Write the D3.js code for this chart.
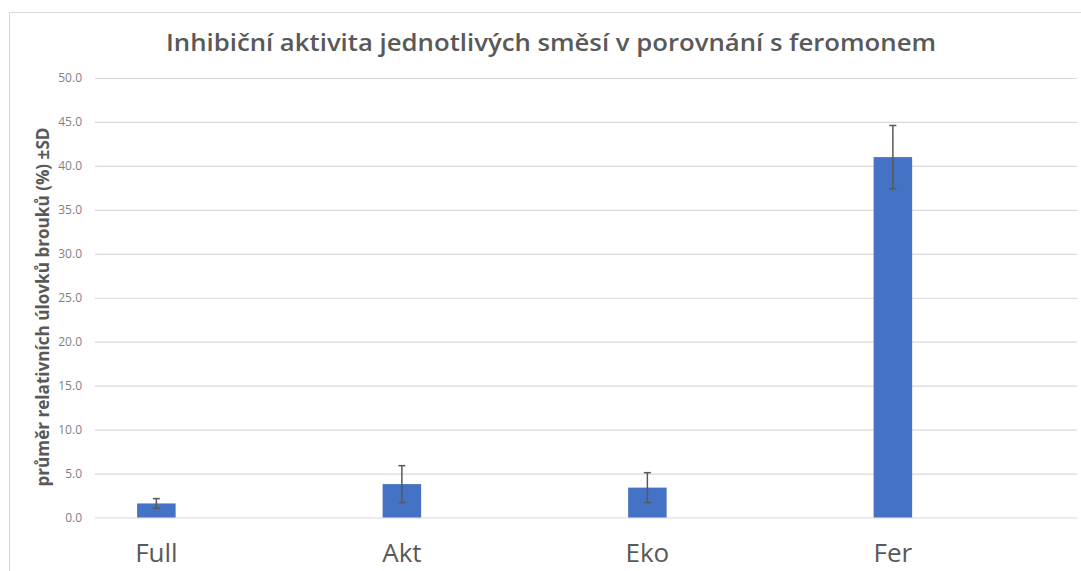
<!DOCTYPE html>
<html>
<head>
<meta charset="utf-8">
<script src="https://cdn.jsdelivr.net/npm/d3@7"></script>
<style>
  body { margin: 0; background: #fff; }
  text { font-family: "Open Sans", "Noto Sans", sans-serif; }
</style>
</head>
<body>
<div id="chart"></div>
<script>
// data
const categories = ['Full', 'Akt', 'Eko', 'Fer'];
const means = [1.6, 3.8, 3.4, 41.0];
const sds = [0.55, 2.1, 1.7, 3.6];
const yTicks = [0, 5, 10, 15, 20, 25, 30, 35, 40, 45, 50];

const W = 1081, H = 571;
const plot = { left: 95, right: 1077, top: 78, bottom: 517.5 };

const svg = d3.select('#chart')
    .append('svg')
    .attr('width', W)
    .attr('height', H);

// chart frame
svg.append('rect')
    .attr('x', 9.5).attr('y', 12.5)
    .attr('width', W).attr('height', H)
    .attr('fill', 'none')
    .attr('stroke', '#d9d9d9');

const x = d3.scaleBand()
    .domain(categories)
    .range([plot.left, plot.right]);

const y = d3.scaleLinear()
    .domain([0, 50])
    .range([plot.bottom, plot.top]);

const barW = 38.5;
// bars sit at a quarter of each band
const cx = c => x(c) + x.bandwidth() / 4;

// gridlines + tick labels
const yAxis = svg.append('g')
    .attr('transform', `translate(${plot.left},0)`)
    .call(d3.axisLeft(y)
        .tickValues(yTicks)
        .tickSize(-(plot.right - plot.left))
        .tickPadding(13)
        .tickFormat(d3.format('.1f')));
yAxis.select('.domain').remove();
yAxis.selectAll('.tick line').attr('stroke', '#d9d9d9').attr('stroke-width', 1.2);
yAxis.selectAll('.tick text')
    .attr('fill', '#7f7f7f')
    .style('font-size', '12px');

// bars
svg.append('g')
    .selectAll('rect')
    .data(categories)
    .enter()
    .append('rect')
    .attr('x', c => cx(c) - barW / 2)
    .attr('y', (c, i) => y(means[i]))
    .attr('width', barW)
    .attr('height', (c, i) => y(0) - y(means[i]))
    .attr('fill', '#4472c4');

// error bars
const err = svg.append('g')
    .attr('stroke', '#595959')
    .attr('stroke-width', 1.5);
categories.forEach((c, i) => {
    const hi = y(means[i] + sds[i]);
    const lo = y(means[i] - sds[i]);
    const px = cx(c);
    err.append('line').attr('x1', px).attr('x2', px).attr('y1', hi).attr('y2', lo);
    err.append('line').attr('x1', px - 3.5).attr('x2', px + 3.5).attr('y1', hi).attr('y2', hi);
    err.append('line').attr('x1', px - 3.5).attr('x2', px + 3.5).attr('y1', lo).attr('y2', lo);
});

// category labels
svg.append('g')
    .selectAll('text')
    .data(categories)
    .enter()
    .append('text')
    .attr('x', c => cx(c))
    .attr('y', 562)
    .attr('text-anchor', 'middle')
    .attr('fill', '#595959')
    .style('font-size', '26px')
    .text(c => c);

// title
svg.append('text')
    .attr('x', 551)
    .attr('y', 51)
    .attr('text-anchor', 'middle')
    .attr('fill', '#595959')
    .attr('textLength', 770)
    .attr('lengthAdjust', 'spacingAndGlyphs')
    .style('font-size', '24px')
    .style('font-weight', 600)
    .text('Inhibiční aktivita jednotlivých směsí v porovnání s feromonem');

// y axis title
svg.append('text')
    .attr('transform', 'rotate(-90)')
    .attr('x', -307)
    .attr('y', 49)
    .attr('text-anchor', 'middle')
    .attr('fill', '#595959')
    .attr('textLength', 359)
    .attr('lengthAdjust', 'spacingAndGlyphs')
    .style('font-size', '17px')
    .style('font-weight', 'bold')
    .text('průměr relativních úlovků brouků (%) ±SD');
</script>
</body>
</html>
